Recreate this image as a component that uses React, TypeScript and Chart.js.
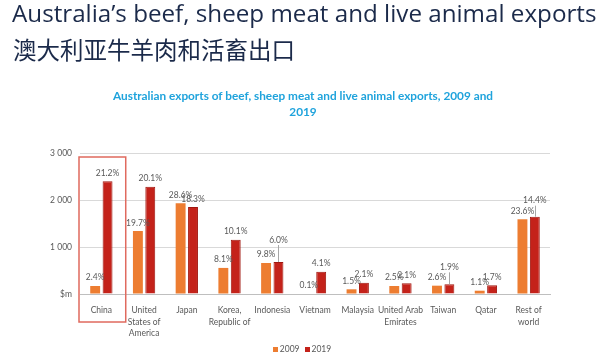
import React, { useEffect, useRef } from "react";
import { Chart, registerables } from "chart.js";

Chart.register(...registerables);

const categories: (string | string[])[] = [
  "China",
  ["United", "States of", "America"],
  "Japan",
  ["Korea,", "Republic of"],
  "Indonesia",
  "Vietnam",
  "Malaysia",
  ["United Arab", "Emirates"],
  "Taiwan",
  "Qatar",
  ["Rest of", "world"],
];
const values2009 = [170, 1340, 1930, 555, 660, 10, 100, 170, 177, 70, 1590];
const values2019 = [2400, 2280, 1850, 1155, 680, 475, 240, 228, 206, 185, 1645];
const pct2009 = ["2.4%", "19.7%", "28.6%", "8.1%", "9.8%", "0.1%", "1.5%", "2.5%", "2.6%", "1.1%", "23.6%"];
const pct2019 = ["21.2%", "20.1%", "18.3%", "10.1%", "6.0%", "4.1%", "2.1%", "2.1%", "1.9%", "1.7%", "14.4%"];
const yTicks = [0, 1000, 2000, 3000];
const yTickLabels = ["$m", "1 000", "2 000", "3 000"];
const seriesNames = ["2009", "2019"];

const ORANGE = "#ED7D31";
const RED = "#C4221A";
const NAVY = "#1b2a4a";
const GREY = "#595959";
const FONT = "Lato, 'Open Sans', sans-serif";

// extra lift (px) for labels drawn with a leader line, per series, by category index
const leaderLift: Record<number, Record<number, number>> = {
  1: { 4: 14, 8: 9, 10: 8 },
};

const labelPlugin = {
  id: "pctLabels",
  afterDatasetsDraw(chart: any) {
    const ctx = chart.ctx;
    const sets = [pct2009, pct2019];
    ctx.save();
    ctx.font = `8.5px ${FONT}`;
    ctx.fillStyle = GREY;
    ctx.textAlign = "center";
    ctx.textBaseline = "bottom";
    chart.data.datasets.forEach((_: any, di: number) => {
      const meta = chart.getDatasetMeta(di);
      meta.data.forEach((bar: any, i: number) => {
        const lift = (leaderLift[di] && leaderLift[di][i]) || 0;
        const yText = bar.y - 4 - lift;
        ctx.fillStyle = GREY;
        ctx.fillText(sets[di][i], bar.x, yText);
        if (lift) {
          ctx.strokeStyle = "#a6a6a6";
          ctx.lineWidth = 1;
          ctx.beginPath();
          ctx.moveTo(Math.round(bar.x) + 0.5, yText + 1);
          ctx.lineTo(Math.round(bar.x) + 0.5, bar.y);
          ctx.stroke();
        }
      });
    });
    ctx.restore();
  },
};

const boxPlugin = {
  id: "chinaBox",
  afterDraw(chart: any) {
    const ctx = chart.ctx;
    const x = chart.scales.x;
    const area = chart.chartArea;
    const cw = (area.right - area.left) / categories.length;
    const cx = x.getPixelForValue(0);
    ctx.save();
    ctx.strokeStyle = "#e06a5e";
    ctx.lineWidth = 1.5;
    ctx.strokeRect(cx - cw / 2 - 1, area.top + 4, cw + 4, area.bottom + 28 - (area.top + 4));
    ctx.restore();
  },
};

export default function App() {
  const ref = useRef<HTMLCanvasElement | null>(null);
  useEffect(() => {
    if (!ref.current) return;
    const chart = new Chart(ref.current, {
      type: "bar",
      data: {
        labels: categories,
        datasets: [
          {
            label: seriesNames[0],
            data: values2009,
            backgroundColor: ORANGE,
            borderWidth: 0,
            categoryPercentage: 0.58,
            barPercentage: 0.8,
          },
          {
            label: seriesNames[1],
            data: values2019,
            backgroundColor: RED,
            borderColor: "#a0170f",
            borderWidth: 1,
            categoryPercentage: 0.58,
            barPercentage: 0.8,
          },
        ],
      },
      options: {
        animation: false,
        responsive: false,
        layout: { padding: { left: 48, right: 50, top: 153, bottom: 18 } },
        plugins: {
          legend: { display: false },
          title: { display: false },
          tooltip: { enabled: false },
        },
        scales: {
          x: {
            grid: { display: false },
            border: { display: true, color: "#bfbfbf" },
            ticks: {
              color: GREY,
              font: { family: FONT, size: 8.5, lineHeight: 1.4 },
              maxRotation: 0,
              autoSkip: false,
              padding: 2,
            },
            afterFit: (s: any) => {
              s.height = 50;
            },
          },
          y: {
            min: 0,
            max: 3000,
            afterBuildTicks: (s: any) => {
              s.ticks = yTicks.map((v) => ({ value: v }));
            },
            grid: { color: "#d9d9d9", drawTicks: false },
            border: { display: false },
            ticks: {
              color: GREY,
              font: { family: FONT, size: 8.5 },
              padding: 8,
              callback: (v: any) => {
                const idx = yTicks.indexOf(Number(v));
                return idx >= 0 ? yTickLabels[idx] : "";
              },
            },
            afterFit: (s: any) => {
              s.width = 32;
            },
          },
        },
      },
      plugins: [labelPlugin, boxPlugin],
    });
    return () => chart.destroy();
  }, []);

  return (
    <div
      style={{
        position: "fixed",
        left: 0,
        top: 0,
        width: 600,
        height: 362,
        background: "#fff",
        overflow: "hidden",
        fontFamily: FONT,
      }}
    >
      <canvas ref={ref} width={600} height={362} style={{ position: "absolute", left: 0, top: 0 }} />
      <div
        style={{
          position: "absolute",
          left: 12,
          top: -2,
          fontSize: 24.2,
          color: NAVY,
          whiteSpace: "nowrap",
          lineHeight: "30px",
          fontFamily: "'Open Sans', sans-serif",
        }}
      >
        Australia’s beef, sheep meat and live animal exports
      </div>
      <div
        style={{
          position: "absolute",
          left: 13,
          top: 34,
          fontSize: 23.5,
          color: NAVY,
          whiteSpace: "nowrap",
          lineHeight: "30px",
          fontFamily: "'Noto Sans CJK SC', sans-serif",
        }}
      >
        澳大利亚牛羊肉和活畜出口
      </div>
      <div
        style={{
          position: "absolute",
          left: 0,
          width: 606,
          top: 88,
          textAlign: "center",
          fontSize: 11.8,
          fontWeight: 700,
          color: "#1fa3dc",
          lineHeight: "16px",
        }}
      >
        Australian exports of beef, sheep meat and live animal exports, 2009 and
        <br />
        2019
      </div>
      <div
        style={{
          position: "absolute",
          left: 0,
          width: 604,
          top: 344,
          display: "flex",
          justifyContent: "center",
          alignItems: "center",
          fontSize: 8.5,
          color: GREY,
        }}
      >
        <span style={{ display: "inline-block", width: 5, height: 5, background: ORANGE, marginRight: 2 }} />
        <span style={{ marginRight: 5 }}>{seriesNames[0]}</span>
        <span style={{ display: "inline-block", width: 5, height: 5, background: RED, marginRight: 2 }} />
        <span>{seriesNames[1]}</span>
      </div>
    </div>
  );
}
